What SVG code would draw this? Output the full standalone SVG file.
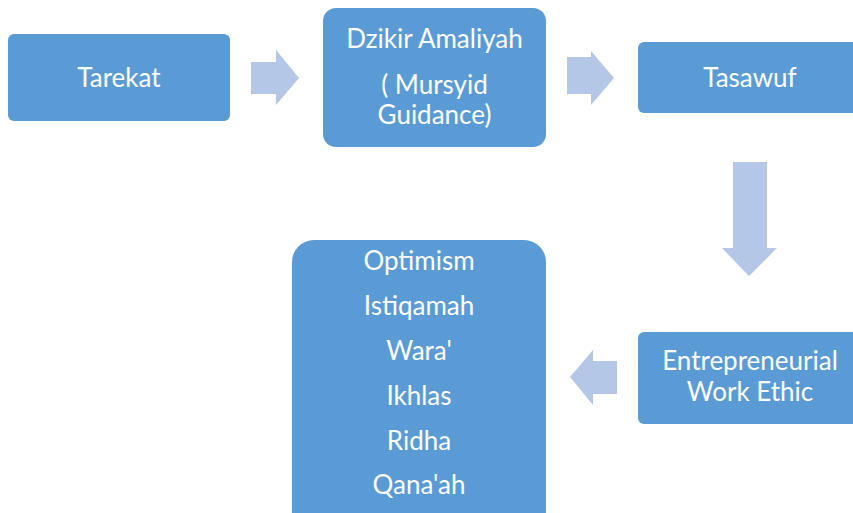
<svg xmlns="http://www.w3.org/2000/svg" width="853" height="513" viewBox="0 0 853 513">
<style>
.box{fill:#5b9bd5;}
.arr{fill:#b4c7e7;}
text{font-family:Lato,"Open Sans",sans-serif;font-size:26px;fill:#ffffff;text-anchor:middle;}
</style>
<rect width="853" height="513" fill="#ffffff"/>
<g id="connectors">
<polygon class="arr" points="251,62 276,62 276,50 299,78 276,105 276,94 251,94"/>
<polygon class="arr" points="567,57 591,57 591,51 614,78 591,105 591,94 567,94"/>
<polygon class="arr" points="733,162 767,162 767,248 777,248 749,276 722,248 733,248"/>
<polygon class="arr" points="617,361 593,361 593,350 570,377 593,405 593,394 617,394"/>
</g>
<g id="tarekat">
<rect class="box" x="8" y="34" width="222" height="87" rx="6"/>
<text x="119" y="87">Tarekat</text>
</g>
<g id="dzikir">
<rect class="box" x="323" y="8" width="223" height="139" rx="13"/>
<text x="434.5" y="48">Dzikir Amaliyah</text>
<text x="434.5" y="94">( Mursyid</text>
<text x="434.5" y="124">Guidance)</text>
</g>
<g id="tasawuf">
<rect class="box" x="638" y="42" width="224" height="71" rx="6"/>
<text x="750" y="87">Tasawuf</text>
</g>
<g id="ethic">
<rect class="box" x="638" y="332" width="224" height="92" rx="6"/>
<text x="750" y="370">Entrepreneurial</text>
<text x="750" y="401">Work Ethic</text>
</g>
<g id="values">
<rect class="box" x="292" y="240" width="254" height="300" rx="22"/>
<text x="419" y="270">Optimism</text>
<text x="419" y="315">Istiqamah</text>
<text x="419" y="360">Wara'</text>
<text x="419" y="405">Ikhlas</text>
<text x="419" y="450">Ridha</text>
<text x="419" y="494">Qana'ah</text>
</g>
</svg>
